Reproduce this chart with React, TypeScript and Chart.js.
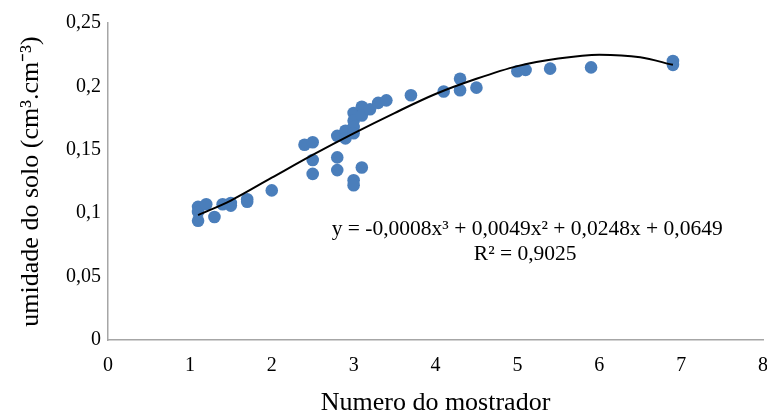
import { useEffect, useRef } from 'react';
import { Chart, registerables } from 'chart.js';

Chart.register(...registerables);

// Observed points
const pointX = [1.1, 1.1, 1.1, 1.2, 1.3, 1.4, 1.5, 1.5, 1.7, 1.7, 2.0, 2.4, 2.5, 2.5, 2.5, 2.8, 2.8, 2.8, 2.9, 2.9, 3.0, 3.0, 3.0, 3.0, 3.0, 3.0, 3.1, 3.1, 3.1, 3.2, 3.3, 3.4, 3.7, 4.1, 4.3, 4.3, 4.5, 5.0, 5.1, 5.4, 5.9, 6.9, 6.9];
const pointY = [0.105, 0.101, 0.094, 0.107, 0.097, 0.107, 0.108, 0.106, 0.111, 0.109, 0.118, 0.154, 0.156, 0.142, 0.131, 0.161, 0.144, 0.134, 0.165, 0.159, 0.179, 0.173, 0.168, 0.163, 0.126, 0.122, 0.184, 0.177, 0.136, 0.182, 0.187, 0.189, 0.193, 0.196, 0.206, 0.197, 0.199, 0.212, 0.213, 0.214, 0.215, 0.220, 0.217];

// Trend line
const trendX = [1.1, 1.5, 2.0, 2.5, 3.0, 3.5, 4.0, 4.5, 5.0, 5.5, 6.0, 6.5, 6.9];
const trendY = [0.0985, 0.110, 0.128, 0.146, 0.163, 0.179, 0.194, 0.206, 0.216, 0.222, 0.225, 0.223, 0.217];

const equationLines = ['y = -0,0008x³ + 0,0049x² + 0,0248x + 0,0649', 'R² = 0,9025'];
const xTitle = 'Numero do mostrador';
const yTitle = 'umidade do solo (cm³.cm⁻³)';

const FONT = "'Liberation Serif', 'Times New Roman', serif";

export default function App() {
  const ref = useRef<HTMLCanvasElement | null>(null);

  useEffect(() => {
    if (!ref.current) return;
    const eqPlugin = {
      id: 'eqText',
      afterDraw(chart: any) {
        const ctx = chart.ctx;
        const xs = chart.scales.x;
        const ys = chart.scales.y;
        const cx = xs.getPixelForValue(5.12);
        const cy = ys.getPixelForValue(0.087);
        ctx.save();
        ctx.fillStyle = '#000';
        ctx.font = `21.5px ${FONT}`;
        ctx.textAlign = 'center';
        ctx.textBaseline = 'middle';
        ctx.fillText(equationLines[0], cx, cy);
        ctx.fillText(equationLines[1], cx - 2, cy + 25);
        ctx.restore();
      },
    };

    const chart = new Chart(ref.current, {
      type: 'scatter',
      data: {
        datasets: [
          {
            type: 'line',
            data: trendX.map((x, i) => ({ x, y: trendY[i] })),
            borderColor: '#000',
            borderWidth: 2,
            pointRadius: 0,
            fill: false,
            cubicInterpolationMode: 'monotone',
          } as any,
          {
            data: pointX.map((x, i) => ({ x, y: pointY[i] })),
            backgroundColor: '#4a7ebb',
            borderColor: '#4a7ebb',
            pointRadius: 6.3,
            borderWidth: 0,
          },
        ],
      },
      options: {
        animation: false,
        responsive: true,
        maintainAspectRatio: false,
        layout: { padding: { left: 0, right: 0, top: 23, bottom: 0 } },
        plugins: { legend: { display: false }, tooltip: { enabled: false } },
        scales: {
          x: {
            type: 'linear',
            min: 0,
            max: 8,
            ticks: { stepSize: 1, color: '#000', font: { family: FONT, size: 20 }, padding: 14 },
            grid: { display: false, drawTicks: false },
            border: { display: true, color: '#a6a6a6', width: 1.5 },
            title: { display: true, text: xTitle, color: '#000', font: { family: FONT, size: 26, lineHeight: 1 }, padding: { top: 0, bottom: 0 } },
            afterFit(scale: any) { scale.height = 76; },
          },
          y: {
            type: 'linear',
            min: 0,
            max: 0.25,
            ticks: {
              stepSize: 0.05,
              color: '#000',
              font: { family: FONT, size: 20 },
              padding: 7,
              callback: (v: any) => String(Math.round(Number(v) * 100) / 100).replace('.', ','),
            },
            grid: { display: false, drawTicks: false },
            border: { display: true, color: '#a6a6a6', width: 1.5 },
            title: { display: true, text: yTitle, color: '#000', font: { family: FONT, size: 26, lineHeight: 1 }, padding: { top: 18, bottom: 0 } },
            afterFit(scale: any) { scale.width = 108; },
          },
        },
      },
      plugins: [eqPlugin],
    });
    return () => chart.destroy();
  }, []);

  return (
    <div style={{ position: 'fixed', left: 0, top: 0, width: 767, height: 416, overflow: 'hidden', background: '#fff' }}>
      <div style={{ position: 'relative', width: 782, height: 416 }}>
        <canvas ref={ref} />
      </div>
    </div>
  );
}
